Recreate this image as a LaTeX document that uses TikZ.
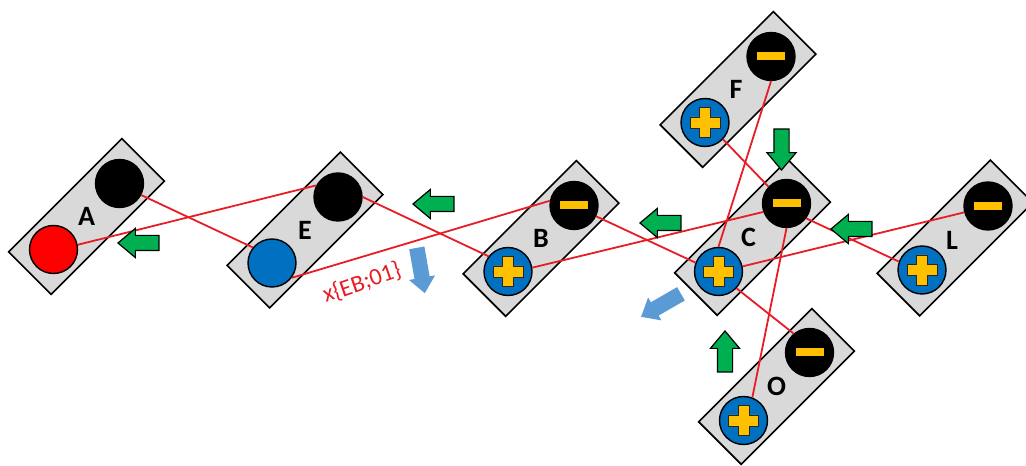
\documentclass[tikz,border=0pt]{standalone}
\usepackage{fontspec}
\setmainfont{Carlito}
\usetikzlibrary{shapes.arrows}

\definecolor{cellgray}{RGB}{217,217,217}
\definecolor{posblue}{RGB}{0,112,192}
\definecolor{signyellow}{RGB}{255,192,0}
\definecolor{wirered}{RGB}{232,28,36}
\definecolor{pushgreen}{RGB}{0,176,80}
\definecolor{driftblue}{RGB}{91,155,213}

\begin{document}
\begin{tikzpicture}[x=1pt,y=1pt,
   cell/.style={draw,line width=1.6pt,fill=cellgray,rotate=45,minimum width=160pt,minimum height=60pt,inner sep=0pt},
   cellname/.style={font=\fontsize{28}{30}\selectfont\bfseries,inner sep=0pt},
   pole/.style={circle,draw=black,line width=1.4pt,minimum size=48pt,inner sep=0pt},
   redpole/.style={pole,fill=red},
   bluepole/.style={pole,fill=posblue},
   blackpole/.style={pole,fill=black},
   pospole/.style={pole,fill=posblue,path picture={
      \draw[line width=0.9pt,draw=black!85,fill=signyellow] ([shift={(-5.5,-15)}]path picture bounding box.center)
        -- ++(11,0) -- ++(0,9.5) -- ++(9.5,0) -- ++(0,11) -- ++(-9.5,0) -- ++(0,9.5)
        -- ++(-11,0) -- ++(0,-9.5) -- ++(-9.5,0) -- ++(0,-11) -- ++(9.5,0) -- cycle;}},
   negpole/.style={pole,fill=black,path picture={
      \fill[signyellow] ([shift={(-14,-4)}]path picture bounding box.center) rectangle ++(28,8);}},
   wire/.style={wirered,line width=1.8pt},
   push/.style={single arrow,draw=black,line width=1.2pt,fill=pushgreen,minimum height=41pt,
      inner xsep=0pt,inner ysep=7pt,single arrow head extend=7pt,single arrow tip angle=80},
   drift/.style={single arrow,fill=driftblue,minimum height=46pt,
      inner xsep=0pt,inner ysep=7.5pt,single arrow head extend=5.5pt,single arrow tip angle=80}]
  \useasboundingbox (0,0) rectangle (1026,466);

  \node[cell] (A) at (86.5,249.5) {};
  \node[cell] (E) at (305,236) {};
  \node[cell] (B) at (541,227.5) {};
  \node[cell] (F) at (738,376.5) {};
  \node[cell] (C) at (752.5,228.5) {};
  \node[cell] (L) at (955,228) {};
  \node[cell] (O) at (776.5,79.5) {};

  \node[cellname] (tA) at (A) {A};
  \node[cellname] (tE) at (E) {E};
  \node[cellname] (tB) at (B) {B};
  \node[cellname] (tF) at ([xshift=-2]F) {F};
  \node[cellname] (tC) at ([xshift=-4]C) {C};
  \node[cellname] (tL) at ([xshift=-3,yshift=-2]L) {L};
  \node[cellname] (tO) at (O) {O};

  \node[redpole] (Ap) at ([shift={(-33,-33)}]A) {};
  \node[blackpole] (Am) at ([shift={(33,33)}]A) {};
  \node[bluepole] (Ep) at ([shift={(-33,-33)}]E) {};
  \node[blackpole] (Em) at ([shift={(33,33)}]E) {};
  \node[pospole] (Bp) at ([shift={(-33,-33)}]B) {};
  \node[negpole] (Bm) at ([shift={(33,33)}]B) {};
  \node[pospole] (Fp) at ([shift={(-33,-33)}]F) {};
  \node[negpole] (Fm) at ([shift={(33,33)}]F) {};
  \node[pospole] (Cp) at ([shift={(-34,-34)}]C) {};
  \node[negpole] (Cm) at ([shift={(34,34)}]C) {};
  \node[pospole] (Lp) at ([shift={(-33,-32)}]L) {};
  \node[negpole] (Lm) at ([shift={(33,32)}]L) {};
  \node[pospole] (Op) at ([shift={(-33,-34)}]O) {};
  \node[negpole] (Om) at ([shift={(33,34)}]O) {};

  \draw[wire] (Ap.11) -- (Em.152);
  \draw[wire] (Am.-28) -- (Ep.141);
  \draw[wire] (Em.0) -- (Bp.142);
  \draw[wire] (Ep.-37) -- (Bm.169);
  \draw[wire] (Bm.-26) -- (Cp.159);
  \draw[wire] (Bp.9) -- (Cm.200);
  \draw[wire] (Fp.-43) -- (Cm.137);
  \draw[wire] (Fm.-90) -- (Cp.90);
  \draw[wire] (Cm.-90) -- (Op.69);
  \draw[wire] (Cp.-43) -- (Om.130);
  \draw[wire] (Cm.-37) -- (Lp.160);
  \draw[wire] (Cp.12) -- (Lm.195);

  \node[push,rotate=180] (g1) at (143,223) {};
  \node[push,rotate=180] (g2) at (438,262) {};
  \node[push,rotate=180] (g3) at (665,243) {};
  \node[push,rotate=180] (g4) at (856,237) {};
  \node[push,rotate=-90] (g5) at (781.5,321) {};
  \node[push,rotate=90] (g6) at (725,110) {};

  \node[drift,rotate=-80] (d1) at (420,200) {};
  \node[drift,rotate=210] (d2) at (665,163) {};

  \node[text=wirered,font=\fontsize{24}{26}\selectfont,rotate=19] (xEB) at (362,183) {x\{EB;01\}};
\end{tikzpicture}
\end{document}
